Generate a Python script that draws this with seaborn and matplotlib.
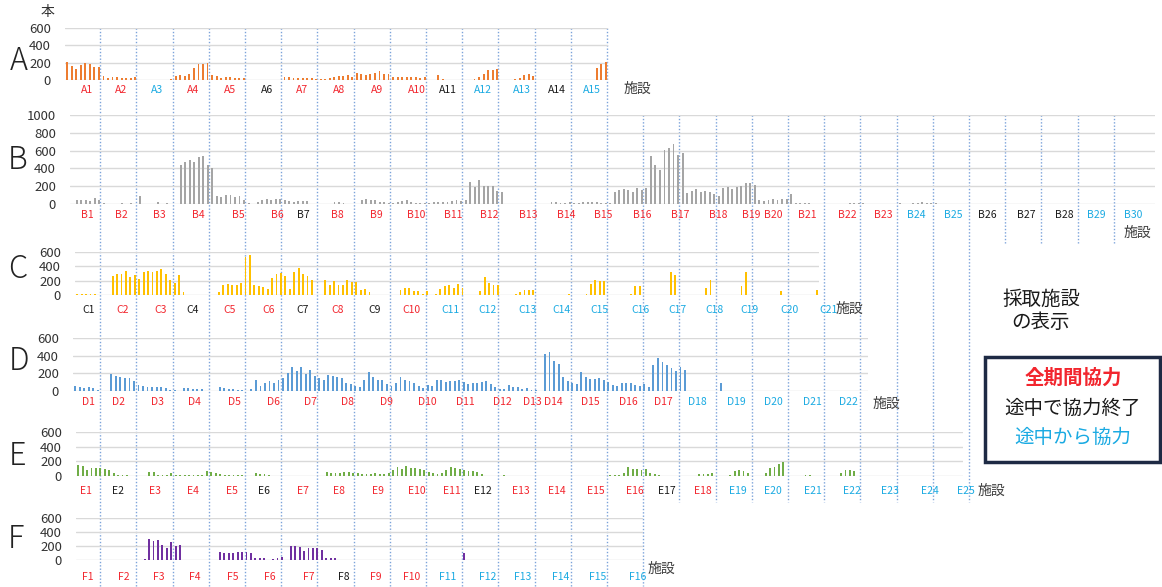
import numpy as np
import pandas as pd
import matplotlib
matplotlib.use("Agg")
import matplotlib.pyplot as plt
import seaborn as sns
from matplotlib.patches import Rectangle

sns.set_theme(style="white")
plt.rcParams['font.family'] = ['Noto Sans CJK JP', 'DejaVu Sans']

# ---------------- data (8 samples per facility) ----------------
A_vals = [[205,165,130,175,195,185,145,145],[45,25,30,30,25,20,20,30],[5,5,5,5,5,5,5,10],
          [45,60,45,65,135,180,180,195],[60,45,25,40,30,20,20,20],[0,0,0,0,0,0,0,0],
          [40,40,25,25,20,20,20,15],[10,15,25,35,50,45,55,40],[80,65,55,70,80,100,75,70],
          [35,40,40,35,35,30,25,40],[0,0,55,10,0,0,0,0],[0,0,10,40,75,110,115,125],
          [0,0,0,10,20,55,70,45],[0,0,0,5,0,0,0,0],[0,0,0,0,0,135,185,205]]
A_status = "RRCRRKRRRRKCCKC"

B_vals = [[5,40,50,40,30,65,40,15],[5,5,5,15,5,10,5,95],[5,5,5,20,5,10,5,5],
          [440,470,500,475,530,540,440,410],[95,80,105,100,80,85,50,10],[5,20,50,55,45,55,55,40],
          [30,20,30,35,35,5,0,5],[5,5,20,25,10,5,5,5],[50,55,45,40,20,20,15,15],
          [20,30,45,20,15,10,10,15],[20,20,20,25,30,45,35,50],[245,190,265,200,200,205,145,140],
          [5,5,5,5,5,5,5,5],[5,5,20,20,10,10,25,10],[15,20,25,20,20,10,15,15],
          [130,155,165,155,130,175,155,175],[540,435,380,610,625,670,555,570],
          [125,150,165,130,150,130,110,95],[175,190,165,190,205,235,235,210],
          [45,35,50,60,50,55,60,110],[10,10,10,10,5,5,5,5],[5,5,5,5,10,10,15,15],
          [5,5,5,5,5,5,5,10],[5,5,10,15,20,15,15,10],[0,0,0,5,5,5,5,5],
          [5,0,5,5,5,0,0,0],[0,5,0,0,0,0,0,0],[5,0,0,0,0,0,0,0],[0,0,0,0,0,0,0,0],[0,5,0,0,0,0,0,0]]
B_status = "RRRRRRKRRRRRRRRRRRRRRRRCCKKKCC"

C_vals = [[10,20,15,10,10,0,0,0],[265,295,295,340,255,285,220,315],[340,320,340,360,295,205,165,285],
          [40,0,0,0,0,0,0,0],[40,140,160,135,135,165,530,560],[140,125,105,90,235,290,300,260],
          [80,315,375,290,260,205,0,0],[215,140,200,135,140,205,180,180],[75,80,40,0,0,0,0,0],
          [0,65,95,100,50,50,20,60],[0,20,85,125,135,95,150,100],[0,0,0,60,250,165,135,145],
          [0,0,0,15,40,70,75,70],[0,0,5,5,5,5,5,10],[0,0,0,10,155,210,195,190],
          [0,0,0,0,0,15,125,125],[0,0,0,0,0,5,320,285],[0,0,0,0,0,0,95,215],
          [0,0,0,0,0,0,130,325],[0,0,0,0,0,0,0,50],[0,0,0,0,0,0,0,75]]
C_status = "KRRKRRKRKRCCCCCCCCCCC"

D_vals = [[55,40,30,40,30,15,5,5],[190,175,160,145,145,115,65,55],[45,45,40,40,35,15,8,5],
          [30,30,25,25,20,5,5,5],[40,30,28,20,15,15,5,25],[125,55,85,115,85,125,150,200],
          [275,230,270,190,240,175,145,125],[180,175,160,145,85,75,55,45],
          [130,210,155,125,125,75,60,85],[155,130,115,95,60,35,65,55],
          [130,125,105,115,110,125,105,75],[90,90,105,115,75,45,25,25],[65,45,40,25,35,15,8,5],
          [420,440,335,305,160,115,85,75],[220,155,140,135,145,130,105,65],
          [55,90,85,85,65,55,75,40],[290,375,325,295,260,225,270,240],[0,0,0,0,0,0,0,85],
          [0,0,0,0,0,0,0,0],[0,0,0,0,3,0,0,0],[0,0,0,3,0,0,0,0],[0,0,0,3,0,0,0,0]]
D_status = "RRRRRRRRRRRRRRRRRCCCCC"

E_vals = [[150,130,80,115,105,105,95,85],[45,15,10,10,5,5,0,0],[60,55,15,15,15,45,20,15],
          [10,10,10,10,15,70,50,35],[25,20,18,20,15,15,5,5],[35,30,25,15,0,0,0,0],
          [5,0,0,0,5,5,0,0],[50,35,45,45,50,55,35,35],[27,32,27,37,23,32,46,82],
          [120,90,130,115,105,95,80,60],[35,25,45,80,120,115,90,80],[75,70,50,25,5,0,0,0],
          [20,5,5,5,5,5,5,5],[5,5,5,5,5,5,5,5],[5,5,5,5,5,5,5,5],[10,10,10,45,120,100,90,80],
          [90,45,30,20,0,0,0,0],[0,0,5,5,25,30,30,35],[0,0,0,20,70,80,70,45],
          [0,0,0,45,115,125,160,195],[0,0,0,0,20,20,0,0],[0,0,0,0,45,80,80,75],
          [0,0,0,3,3,3,3,0],[0,0,0,0,3,3,0,3],[0,0,0,0,3,3,3,0]]
E_status = "RKRRRKRRRRRKRRRRKRCCCCCCC"

F_vals = [[5,5,5,5,5,5,5,5],[5,5,5,5,5,5,5,15],[305,270,290,215,175,260,200,215],
          [5,0,0,5,0,0,0,0],[115,105,105,105,110,120,115,95],[35,25,25,0,15,25,45,0],
          [200,200,190,130,165,165,165,140],[30,30,30,0,0,0,0,0],[5,5,5,5,5,5,5,5],
          [5,5,5,5,5,5,5,5],[0,0,3,3,3,3,3,95],[0,0,0,0,3,3,0,0],[0,0,0,0,0,0,3,0],
          [0,0,0,0,0,0,3,0],[0,0,0,0,0,0,3,0],[0,0,0,0,0,0,0,0]]
F_status = "RRRRRRRKRRCCCCCC"

Y_TICKS_600 = [0, 200, 400, 600]
Y_TICKS_1000 = [0, 200, 400, 600, 800, 1000]

# ---------------- layout / style ----------------
W, H = 1162, 587
STATUS_COLORS = {"R": "#F2262E", "K": "#1A1A1A", "C": "#1AAAE2"}
LINE_ORIGIN, FAC_PX = 64.0, 36.2   # dotted facility separators (figure pixels)

panels = [
    dict(letter="A", vals=A_vals, status=A_status, color="#ED7D31", ticks=Y_TICKS_600,
         L=65, R=608, top=28, bot=80, laby=90, letpos=(19, 61), sets=(637, 89),
         offs=[5,3,3,2,3,4,3,4,5,9,4,3,5,4,3], lbot=100),
    dict(letter="B", vals=B_vals, status=B_status, color="#A5A5A5", ticks=Y_TICKS_1000,
         L=70, R=1155, top=115, bot=204, laby=215, letpos=(18, 160), sets=(1137, 233),
         offs=[5,3,5,8,11,14,4,2,5,8,9,9,12,14,14,17,19,21,18,3,1,5,5,2,2,0,3,5,1,1], lbot=243),
    dict(letter="C", vals=C_vals, status=C_status, color="#FFC000", ticks=Y_TICKS_600,
         L=75, R=819, top=252, bot=295, laby=310, letpos=(18, 269), sets=(849, 309),
         offs=[6,4,6,2,3,6,3,2,3,4,6,7,11,9,11,15,16,17,16,20,22], lbot=320),
    dict(letter="D", vals=D_vals, status=D_status, color="#5B9BD5", ticks=Y_TICKS_600,
         L=73, R=868, top=338, bot=391, laby=402, letpos=(19, 361), sets=(886, 404),
         offs=[6,0,3,4,8,10,11,12,15,19,21,22,16,1,1,3,2,0,3,3,6,6], lbot=412),
    dict(letter="E", vals=E_vals, status=E_status, color="#70AD47", ticks=Y_TICKS_600,
         L=76, R=963, top=432, bot=476, laby=491, letpos=(18, 456), sets=(991, 491),
         offs=[4,0,0,2,5,1,4,4,6,9,8,3,4,4,7,10,6,5,4,3,7,10,11,15,15], lbot=502),
    dict(letter="F", vals=F_vals, status=F_status, color="#7030A0", ticks=Y_TICKS_600,
         L=76, R=643, top=518, bot=560, laby=577, letpos=(16, 539), sets=(661, 569),
         offs=[6,6,4,4,6,7,9,8,4,4,4,7,6,8,9,13], lbot=586),
]

fig = plt.figure(figsize=(W / 100, H / 100), dpi=100)
fig.patch.set_facecolor("white")

# overlay axes: x in facility units, y in figure pixels (top = 0)
ov = fig.add_axes([0, 0, 1, 1], zorder=0)
ov.set_xlim(-LINE_ORIGIN / FAC_PX, (W - LINE_ORIGIN) / FAC_PX)
ov.set_ylim(H, 0)
ov.axis("off")

# dotted separators between facilities, spanning every panel that has them
max_fac = max(len(p["vals"]) for p in panels)
for k in range(1, max_fac):
    having = [p for p in panels if len(p["vals"]) >= k]
    ov.vlines(k, having[0]["top"], having[-1]["lbot"], colors="#7BA3DA",
              linestyles=(0, (1, 1.4)), linewidth=1.0)

for p in panels:
    vals = np.concatenate([np.asarray(v, float) for v in p["vals"]])
    n = len(vals)
    ax = fig.add_axes([p["L"] / W, 1 - p["bot"] / H, (p["R"] - p["L"]) / W,
                       (p["bot"] - p["top"]) / H], zorder=1)
    ax.set_facecolor("none")
    df = pd.DataFrame({"x": np.arange(n), "v": vals})
    sns.barplot(data=df, x="x", y="v", native_scale=True, color=p["color"], width=0.42,
                saturation=1, errorbar=None, linewidth=0, ax=ax)
    ax.set_xlim(-0.5, n - 0.5)
    ax.set_ylim(0, p["ticks"][-1])
    ax.set_yticks(p["ticks"])
    ax.set_xticks([])
    ax.set_xlabel("")
    ax.set_ylabel("")
    ax.yaxis.grid(True, color="#D9D9D9", linewidth=1)
    ax.set_axisbelow(True)
    ax.tick_params(axis="y", length=0, pad=10, labelsize=9.5, labelcolor="#333333")
    for s in ax.spines.values():
        s.set_visible(False)

    # facility labels
    for k, (st, off) in enumerate(zip(p["status"], p["offs"]), start=1):
        ov.text(k - 0.5 + off / FAC_PX, p["laby"], f"{p['letter']}{k}",
                color=STATUS_COLORS[st], fontsize=7.5, ha="center", va="center")

    # big panel letter and axis caption
    lx, ly = p["letpos"]
    fig.text(lx / W, 1 - ly / H, p["letter"], fontsize=22, fontweight="light",
             color="#222222", ha="center", va="center")
    sx, sy = p["sets"]
    fig.text(sx / W, 1 - sy / H, "施設", fontsize=10, color="#404040",
             ha="center", va="center")

fig.text(48 / W, 1 - 12 / H, "本", fontsize=10, color="#333333", ha="center", va="center")

# legend-like annotation on the right
fig.text(1041 / W, 1 - 299 / H, "採取施設", fontsize=14, color="#1A1A1A",
         ha="center", va="center")
fig.text(1041 / W, 1 - 323 / H, "の表示", fontsize=14, color="#1A1A1A",
         ha="center", va="center")
fig.patches.append(Rectangle((985 / W, 1 - 462 / H), 175 / W, 105 / H,
                             transform=fig.transFigure, fill=False,
                             edgecolor="#1E2A44", linewidth=2.5, zorder=3))
fig.text(1073 / W, 1 - 378 / H, "全期間協力", fontsize=14, fontweight="bold",
         color=STATUS_COLORS["R"], ha="center", va="center")
fig.text(1073 / W, 1 - 408 / H, "途中で協力終了", fontsize=14,
         color=STATUS_COLORS["K"], ha="center", va="center")
fig.text(1073 / W, 1 - 437 / H, "途中から協力", fontsize=14,
         color=STATUS_COLORS["C"], ha="center", va="center")

fig.savefig("out.png", dpi=100, facecolor="white")
